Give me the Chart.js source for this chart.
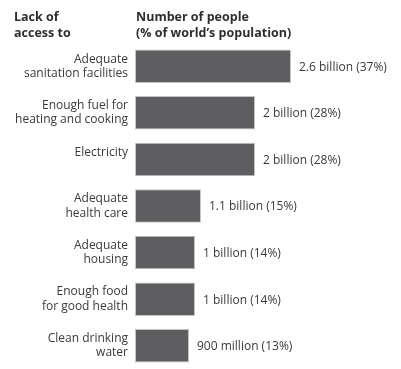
<!DOCTYPE html>
<html>
<head>
<meta charset="utf-8">
<script src="https://cdn.jsdelivr.net/npm/chart.js@4"></script>
<style>
  html, body { margin: 0; padding: 0; background: #fff; }
  #wrap { position: relative; width: 401px; height: 369px; }
</style>
</head>
<body>
<div id="wrap"><canvas id="chart"></canvas></div>
<script>
// categories (split over lines as in the picture; an empty line keeps one-line labels at the top)
const categories = [
  ['Adequate', 'sanitation facilities'],
  ['Enough fuel for', 'heating and cooking'],
  ['Electricity', ''],
  ['Adequate', 'health care'],
  ['Adequate', 'housing'],
  ['Enough food', 'for good health'],
  ['Clean drinking', 'water']
];
// number of people, in billions
const peopleBillions = [2.6, 2, 2, 1.1, 1, 1, 0.9];
const valueLabels = [
  '2.6 billion (37%)',
  '2 billion (28%)',
  '2 billion (28%)',
  '1.1 billion (15%)',
  '1 billion (14%)',
  '1 billion (14%)',
  '900 million (13%)'
];
const leftHeader = ['Lack of', 'access to'];
const rightHeader = ['Number of people', '(% of world\u2019s population)'];

const textColor = '#3a3a3a';
const fontFamily = '"Open Sans", sans-serif';

// headers above the two columns
const headerPlugin = {
  id: 'headers',
  afterDraw(chart) {
    const ctx = chart.ctx;
    const area = chart.chartArea;
    ctx.save();
    ctx.fillStyle = '#2e2e2e';
    ctx.font = 'bold 12.5px ' + fontFamily;
    ctx.textBaseline = 'middle';
    ctx.textAlign = 'left';
    leftHeader.forEach((t, i) => ctx.fillText(t, 14, 17 + i * 16));
    rightHeader.forEach((t, i) => ctx.fillText(t, area.left + 1, 17 + i * 16));
    ctx.restore();
  }
};

// value text to the right of each bar
const valuePlugin = {
  id: 'values',
  afterDatasetsDraw(chart) {
    const ctx = chart.ctx;
    const meta = chart.getDatasetMeta(0);
    ctx.save();
    ctx.fillStyle = textColor;
    ctx.font = '12px ' + fontFamily;
    ctx.textBaseline = 'middle';
    ctx.textAlign = 'left';
    meta.data.forEach((bar, i) => {
      ctx.fillText(valueLabels[i], bar.x + 8, bar.y + 1);
    });
    ctx.restore();
  }
};

new Chart(document.getElementById('chart'), {
  type: 'bar',
  data: {
    labels: categories,
    datasets: [{
      data: peopleBillions,
      backgroundColor: '#5e5e60',
      borderColor: '#c4c4c4',
      borderWidth: 1,
      borderSkipped: false,
      barPercentage: 0.72,
      categoryPercentage: 1
    }]
  },
  options: {
    indexAxis: 'y',
    responsive: true,
    maintainAspectRatio: false,
    animation: false,
    layout: { padding: { top: 43, right: 2, bottom: 0, left: 0 } },
    plugins: {
      legend: { display: false },
      tooltip: { enabled: false }
    },
    scales: {
      x: {
        display: false,
        min: 0,
        max: 4.4
      },
      y: {
        afterFit(scale) {
          scale.width = 135;
          scale.paddingTop = 0;
          scale.paddingBottom = 0;
        },
        border: { display: false },
        grid: { display: false, drawTicks: false },
        ticks: {
          color: textColor,
          padding: 7,
          font: { family: fontFamily, size: 12, lineHeight: 1.2 }
        }
      }
    }
  },
  plugins: [headerPlugin, valuePlugin]
});
</script>
</body>
</html>
